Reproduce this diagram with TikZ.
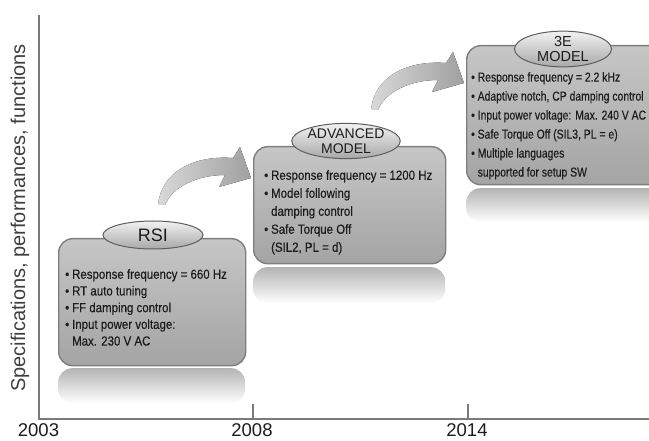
\documentclass[tikz,border=0pt]{standalone}
\usepackage{fontspec}
\setmainfont{Liberation Sans}
\newfontfamily\condA[FakeStretch=0.87,FakeBold=0.35]{Liberation Sans}
\newfontfamily\condB[FakeStretch=0.80,FakeBold=0.35]{Liberation Sans}
\usetikzlibrary{shapes.geometric}
\definecolor{axisgray}{HTML}{7A7A7A}
\definecolor{boxtop}{HTML}{C6C6C6}
\definecolor{boxbot}{HTML}{A4A4A4}
\definecolor{boxedge}{HTML}{7E7E7E}
\definecolor{refltop}{HTML}{B4B4B4}
\definecolor{lbltop}{HTML}{F2F2F2}
\definecolor{lblbot}{HTML}{A8A8A8}
\definecolor{lbledge}{HTML}{5E5E5E}
\definecolor{txt}{HTML}{1C1C1C}
\definecolor{arrowlight}{HTML}{D8D8D8}
\definecolor{arrowdark}{HTML}{A0A0A0}
\newcommand{\bitem}{\textbullet\hspace{0.22em}}
\newcommand{\bcont}{\hphantom{\textbullet\hspace{0.22em}}}
\tikzset{
  pics/bentarrow/.style={code={
    \fill[left color=arrowlight,right color=arrowdark]
      (-4,0) .. controls (-1,-32) and (30,-50) .. (71,-47)
      -- (78,-58) -- (89,-27) -- (57,-18) -- (63,-30)
      .. controls (35,-30) and (10,-18) .. (3,0) -- cycle;
  }}
}
\begin{document}
\begin{tikzpicture}[x=1pt,y=-1pt,
  boxshape/.style={draw=boxedge,line width=1.4pt,rounded corners=14pt,top color=boxtop,bottom color=boxbot,inner sep=0pt,anchor=north west},
  reflshape/.style={rounded corners=14pt,top color=refltop,bottom color=white,inner sep=0pt,anchor=north west},
  lblshape/.style={ellipse,draw=lbledge,line width=1pt,top color=lbltop,bottom color=lblbot,inner sep=0pt,align=center,text=txt},
  bodytext/.style={anchor=north west,inner sep=0pt,align=left,text=txt},
  yearlbl/.style={font=\fontsize{18.5}{21}\selectfont,text=txt,inner sep=0pt},
  axisline/.style={draw=axisgray,line width=2pt}
]
\clip (0,0) rectangle (649,441);

% axes
\coordinate (origin) at (39,419);
\coordinate (ytop) at (39,15);
\coordinate (xend) at (652,419);
\coordinate (t1top) at (253,404);
\coordinate (t1) at (253,419);
\coordinate (t2top) at (468,404);
\coordinate (t2) at (468,419);
\draw[axisline] (ytop) -- (origin) -- (xend);
\draw[axisline,line width=1.6pt] (t1top) -- (t1);
\draw[axisline,line width=1.6pt] (t2top) -- (t2);

\node[yearlbl] (y2003) at (38.5,430) {2003};
\node[yearlbl] (y2008) at (252,430) {2008};
\node[yearlbl] (y2014) at (467,430) {2014};
\node[rotate=90,font=\fontsize{20}{22}\selectfont,text=txt!85,inner sep=0pt] (ylabel) at (20,218) {Specifications, performances, functions};

% reflections
\node[reflshape,minimum width=187pt,minimum height=35pt] (rsiref) at (58,368) {};
\node[reflshape,minimum width=192pt,minimum height=36pt] (advref) at (253,267) {};
\node[reflshape,minimum width=200pt,minimum height=34pt] (eeref) at (466,188) {};

% arrows
\coordinate (arrA) at (162,205);
\coordinate (arrB) at (375,110);
\pic at (arrA) {bentarrow};
\pic at (arrB) {bentarrow};

% boxes
\node[boxshape,minimum width=187pt,minimum height=127pt] (rsi) at (58,238) {};
\node[boxshape,minimum width=192pt,minimum height=117pt] (adv) at (253,146) {};
\node[boxshape,minimum width=200pt,minimum height=139pt] (ee) at (466,45) {};

% labels
\node[lblshape,minimum width=100pt,minimum height=28pt,font=\fontsize{18}{20}\selectfont] (rsilbl) at (153,235) {RSI};
\node[lblshape,minimum width=90pt,minimum height=33pt,font=\fontsize{14}{15}\selectfont] (advlbl) at (346,141) {ADVANCED\\MODEL};
\node[lblshape,minimum width=97pt,minimum height=35pt,font=\fontsize{14.5}{15}\selectfont] (eelbl) at (563,49) {3E\\MODEL};

% texts
\node[bodytext,font=\condA\fontsize{13.2}{16.7}\selectfont] (rsitext) at (65,269) {%
\bitem Response frequency = 660 Hz\\
\bitem RT auto tuning\\
\bitem FF damping control\\
\bitem Input power voltage:\\
\bcont Max. 230 V AC};

\node[bodytext,font=\condA\fontsize{13.2}{18}\selectfont] (advtext) at (264,170) {%
\bitem Response frequency = 1200 Hz\\
\bitem Model following\\
\bcont damping control\\
\bitem Safe Torque Off\\
\bcont (SIL2, PL = d)};

\node[bodytext,font=\condB\fontsize{13}{19}\selectfont] (eetext) at (471,72) {%
\bitem Response frequency = 2.2 kHz\\
\bitem Adaptive notch, CP damping control\\
\bitem Input power voltage: Max. 240 V AC\\
\bitem Safe Torque Off (SIL3, PL = e)\\
\bitem Multiple languages\\
\bcont supported for setup SW};
\end{tikzpicture}
\end{document}
